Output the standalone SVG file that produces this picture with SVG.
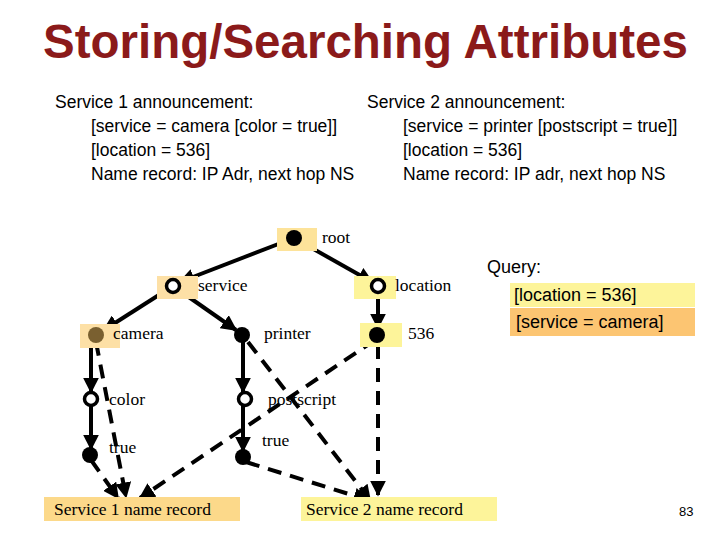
<svg xmlns="http://www.w3.org/2000/svg" width="720" height="540" viewBox="0 0 720 540">
<style>
.t{font-family:"Liberation Sans",Arial,sans-serif;fill:#000}
.s{font-family:"Liberation Serif","Times New Roman",serif;fill:#000;font-size:17.5px}
.e{stroke:#000;stroke-width:4;fill:none}
.d{stroke:#000;stroke-width:4;fill:none;stroke-dasharray:14,9}
.f{fill:#000}
.o{fill:#fff;stroke:#000;stroke-width:3.5}
</style>
<defs>
<marker id="a" viewBox="0 0 10 10" refX="9" refY="5" markerWidth="4" markerHeight="4" orient="auto"><path d="M0,0L10,5L0,10z" fill="#000"/></marker>
</defs>
<rect width="720" height="540" fill="#fff"/>
<text class="t" x="43" y="58" font-size="47.5" font-weight="bold" style="fill:#8b1a1a">Storing/Searching Attributes</text>
<g font-size="17.5">
<text class="t" x="55" y="108">Service 1 announcement:</text>
<text class="t" x="91" y="132">[service = camera [color = true]]</text>
<text class="t" x="91" y="156">[location = 536]</text>
<text class="t" x="91" y="180">Name record: IP Adr, next hop NS</text>
<text class="t" x="367" y="108">Service 2 announcement:</text>
<text class="t" x="403" y="132">[service = printer [postscript = true]]</text>
<text class="t" x="403" y="156">[location = 536]</text>
<text class="t" x="403" y="180">Name record: IP adr, next hop NS</text>
</g>
<g id="query">
<text class="t" x="487" y="273" font-size="18">Query:</text>
<rect x="510" y="283" width="185" height="24" fill="#fdf49a"/>
<rect x="510" y="308" width="185" height="28" fill="#fcc572"/>
<text class="t" x="514" y="301" font-size="18">[location = 536]</text>
<text class="t" x="516" y="328" font-size="18">[service = camera]</text>
</g>
<g id="connectors">
<line class="e" x1="294" y1="238" x2="180" y2="282" marker-end="url(#a)"/>
<line class="e" x1="294" y1="238" x2="372" y2="282" marker-end="url(#a)"/>
<line class="e" x1="173" y1="286" x2="104" y2="330" marker-end="url(#a)"/>
<line class="e" x1="173" y1="286" x2="236" y2="330" marker-end="url(#a)"/>
<line class="e" x1="378" y1="290" x2="378" y2="328" marker-end="url(#a)"/>
<line class="e" x1="91" y1="340" x2="91" y2="392" marker-end="url(#a)"/>
<line class="e" x1="91" y1="404" x2="91" y2="449" marker-end="url(#a)"/>
<line class="e" x1="243" y1="340" x2="243" y2="392" marker-end="url(#a)"/>
<line class="e" x1="243" y1="404" x2="243" y2="451" marker-end="url(#a)"/>
<line class="d" x1="96" y1="342" x2="126" y2="497" marker-end="url(#a)"/>
<line class="d" x1="91" y1="460" x2="118" y2="498" marker-end="url(#a)"/>
<line class="d" x1="375" y1="340" x2="140" y2="498" marker-end="url(#a)"/>
<line class="d" x1="248" y1="342" x2="370" y2="500" marker-end="url(#a)"/>
<line class="d" x1="246" y1="462" x2="368" y2="500" marker-end="url(#a)"/>
<line class="d" x1="378" y1="345" x2="378" y2="495" marker-end="url(#a)"/>
</g>
<g id="root"><rect x="277" y="228" width="40" height="23" fill="#fde39a"/><circle class="f" cx="294" cy="238" r="8"/><text class="s" x="322" y="243">root</text></g>
<g id="service"><rect x="157" y="276" width="41" height="23" fill="#fde0a6"/><circle class="o" cx="173" cy="286" r="6.5"/><text class="s" x="198" y="291">service</text></g>
<g id="location"><rect x="354" y="276" width="42" height="23" fill="#fdf49a"/><circle class="o" cx="378" cy="286" r="6.5"/><text class="s" x="395" y="291">location</text></g>
<g id="camera"><rect x="80" y="324" width="40" height="24" fill="#fde0a6"/><circle cx="96" cy="335" r="8" fill="#7a6030"/><text class="s" x="113" y="339">camera</text></g>
<g id="printer"><circle class="f" cx="242" cy="335" r="8"/><text class="s" x="264" y="339">printer</text></g>
<g id="n536"><rect x="360" y="323" width="42" height="24" fill="#fdf49a"/><circle class="f" cx="377" cy="335" r="8"/><text class="s" x="408" y="339">536</text></g>
<g id="color"><circle class="o" cx="91" cy="399" r="6.5"/><text class="s" x="109" y="405">color</text></g>
<g id="postscript"><circle class="o" cx="245" cy="399" r="6.5"/><text class="s" x="268" y="405">postscript</text></g>
<g id="true1"><circle class="f" cx="90" cy="455" r="8"/><text class="s" x="109" y="453">true</text></g>
<g id="true2"><circle class="f" cx="243" cy="457" r="8"/><text class="s" x="262" y="446">true</text></g>
<g id="s1"><rect x="44" y="497" width="196" height="24" fill="#fcd98a"/><text class="s" x="54" y="515" font-size="20">Service 1 name record</text></g>
<g id="s2"><rect x="301" y="497" width="196" height="24" fill="#fdf49a"/><text class="s" x="306" y="515" font-size="20">Service 2 name record</text></g>
<text class="t" x="679" y="516" font-size="13">83</text>
</svg>
